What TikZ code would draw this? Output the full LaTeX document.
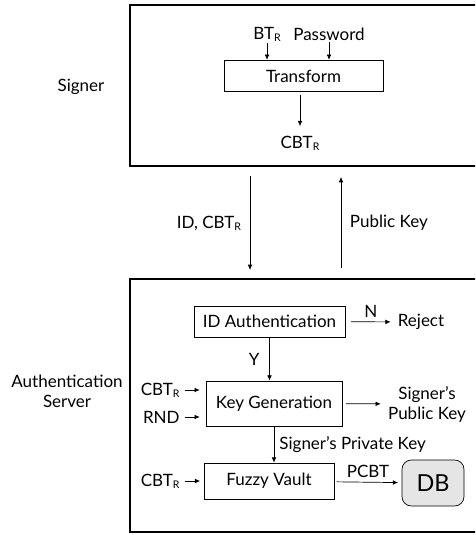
\documentclass[tikz,border=0pt]{standalone}
\usepackage{fontspec}
\setmainfont{Lato}
\usetikzlibrary{arrows.meta,positioning}
\tikzset{
  blk/.style = {draw, rectangle, line width=0.6pt, minimum height=0.95cm, align=center},
  lbl/.style = {align=center, inner sep=1pt},
  db/.style = {draw, rounded corners=8pt, fill=gray!20, line width=0.6pt, minimum width=1.86cm, minimum height=1.38cm, font=\fontsize{20}{22}\selectfont},
  frame/.style = {line width=0.9pt},
  arrow/.style = {line width=0.6pt, -{Latex[length=4.5pt,width=4pt]}}
}
\newcommand{\sbR}{\raisebox{-0.25ex}{\fontsize{9}{9}\selectfont R}}

\begin{document}
\begin{tikzpicture}[x=0.03cm, y=-0.03cm, font=\fontsize{14.5}{17}\selectfont]
  \useasboundingbox (0,0) rectangle (475,535);
  \clip (0,0) rectangle (475,535);
  % panels
  \draw[frame] (130,5) rectangle (480,166);
  \draw[frame] (130,279) rectangle (480,532);
  \node[lbl] (signer) at (81,87) {Signer};
  \node[lbl] (server) at (67,391) {Authentication\\Server};

  % signer
  \node[blk, minimum width=4.77cm] (transform) at (303.5,76) {Transform};
  \node[lbl] (btr) at (267,34) {BT\sbR};
  \node[lbl] (pwd) at (329,34) {Password};
  \node[lbl] (cbt) at (300,143) {CBT\sbR};
  \draw[arrow] (btr) -- (btr |- transform.north);
  \draw[arrow] (pwd) -- (pwd |- transform.north);
  \draw[arrow, shorten <=2pt, shorten >=7pt] (cbt |- transform.south) -- (cbt);

  % messages
  \coordinate (idtop) at (250,176);
  \coordinate (idbot) at (250,270);
  \coordinate (pkbot) at (341,268);
  \coordinate (pktop) at (341,177);
  \draw[arrow] (idtop) -- (idbot) node[midway, left=4pt] {ID, CBT\sbR};
  \draw[arrow] (pkbot) -- (pktop) node[midway, right=4pt] {Public Key};

  % server
  \node[blk, minimum width=4.53cm, minimum height=0.93cm] (idauth) at (269.5,321.5) {ID Authentication};
  \node[lbl] (reject) at (421,322) {Reject};
  \draw[arrow, shorten <=5pt, shorten >=5pt] (idauth) -- (reject) node[midway, above] {N};
  \node[blk, minimum width=4.08cm, minimum height=1.35cm] (keygen) at (274,403.5) {Key Generation};
  \draw[arrow] (idauth.south) -- (idauth.south |- keygen.north) node[midway, left=5pt] {Y};
  \node[lbl, anchor=east] (cbtk) at (181,390) {CBT\sbR};
  \node[lbl, anchor=east] (rnd) at (181,417) {RND};
  \draw[arrow, shorten <=3pt, shorten >=5pt] (cbtk) -- (cbtk -| keygen.west);
  \draw[arrow, shorten <=3pt, shorten >=5pt] (rnd) -- (rnd -| keygen.west);
  \node[lbl] (pubkey) at (427,404) {Signer’s\\Public Key};
  \draw[arrow, shorten <=3pt, shorten >=5pt] (keygen) -- (pubkey);

  \node[blk, minimum width=3.9cm, minimum height=1.08cm] (vault) at (269,481) {Fuzzy Vault};
  \draw[arrow] (keygen.south) -- (keygen.south |- vault.north) node[midway, right=1pt] {Signer’s Private Key};
  \node[lbl, anchor=east] (cbtv) at (181,481) {CBT\sbR};
  \draw[arrow, shorten <=3pt, shorten >=3pt] (cbtv) -- (cbtv -| vault.west);
  \node[db] (db) at (433,483) {DB};
  \draw[arrow, shorten <=2pt, shorten >=3pt] (vault) -- (db) node[midway, above] {PCBT};
\end{tikzpicture}
\end{document}
